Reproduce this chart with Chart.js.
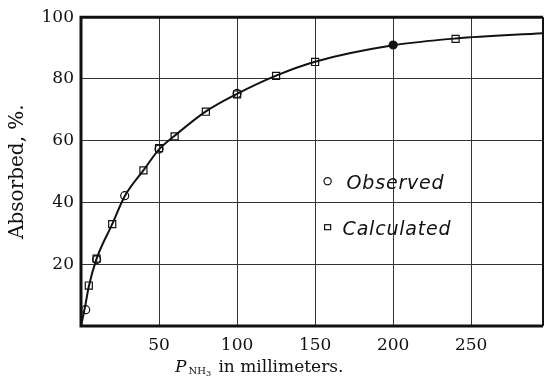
<!DOCTYPE html>
<html>
<head>
<meta charset="utf-8">
<script src="https://cdn.jsdelivr.net/npm/chart.js@4"></script>
<style>
  html, body { margin: 0; padding: 0; background: #fff; }
  #wrap { width: 545px; height: 387px; }
</style>
</head>
<body>
<div id="wrap"><canvas id="chart" width="545" height="387"></canvas></div>
<script>
// smooth fitted curve
const curveX = [0, 2.5, 5, 10, 20, 28, 40, 50, 60, 80, 100, 125, 150, 200, 240, 296];
const curveY = [0, 6, 12.8, 21.8, 33, 42, 50.4, 57.2, 61.6, 69.5, 75.2, 81.1, 85.6, 90.9, 93.1, 94.8];

// observed points (circles)
const observedX = [3, 10, 28, 50, 100, 200];
const observedY = [5.3, 21.5, 42.2, 57.3, 75.3, 91];

// calculated points (squares)
const calculatedX = [5, 10, 20, 40, 50, 60, 80, 100, 125, 150, 240];
const calculatedY = [13.1, 21.8, 33, 50.4, 57.6, 61.4, 69.4, 75, 81, 85.5, 93];

const xTicks = [50, 100, 150, 200, 250];
const yTicks = [20, 40, 60, 80, 100];
const xMax = 296;

const toPoints = (xs, ys) => xs.map((x, i) => ({ x: x, y: ys[i] }));

const serif = "'DejaVu Serif', 'Liberation Serif', serif";
const ink = "#111";

// frame round the plot area
const framePlugin = {
  id: "frame",
  beforeDatasetsDraw(chart) {
    const a = chart.chartArea;
    const ctx = chart.ctx;
    ctx.save();
    ctx.strokeStyle = ink;
    ctx.lineWidth = 3;
    ctx.beginPath();
    ctx.moveTo(a.right, a.top);
    ctx.lineTo(a.left, a.top);
    ctx.lineTo(a.left, a.bottom);
    ctx.lineTo(a.right, a.bottom);
    ctx.stroke();
    ctx.lineWidth = 2;
    ctx.beginPath();
    ctx.moveTo(a.right, a.top);
    ctx.lineTo(a.right, a.bottom);
    ctx.stroke();
    ctx.restore();
  },
};

// legend inside the plot + x title with subscript
const extrasPlugin = {
  id: "extras",
  afterDraw(chart) {
    const ctx = chart.ctx;
    const xs = chart.scales.x;
    const ys = chart.scales.y;
    ctx.save();
    ctx.fillStyle = ink;
    ctx.strokeStyle = ink;
    ctx.lineWidth = 1.2;

    const lx = xs.getPixelForValue(158);
    const y1 = ys.getPixelForValue(46.9);
    const y2 = ys.getPixelForValue(32);
    ctx.beginPath();
    ctx.arc(lx, y1, 3.6, 0, Math.PI * 2);
    ctx.stroke();
    ctx.strokeRect(lx - 3, y2 - 2.5, 6, 5);

    ctx.font = "italic 19px 'DejaVu Sans', sans-serif";
    ctx.letterSpacing = "0.8px";
    ctx.textBaseline = "alphabetic";
    ctx.textAlign = "left";
    ctx.fillText("Observed", lx + 19, y1 + 7.5);
    ctx.fillText("Calculated", lx + 15, y2 + 7.5);
    ctx.letterSpacing = "0px";

    // x axis title: P_NH3 in millimeters.
    const base = 372;
    let x = 175;
    ctx.font = "italic 17px " + serif;
    ctx.fillText("P", x, base);
    x += ctx.measureText("P").width + 2;
    ctx.font = "10px " + serif;
    ctx.fillText("NH", x, base + 2);
    x += ctx.measureText("NH").width;
    ctx.font = "8px " + serif;
    ctx.fillText("3", x, base + 4);
    x += ctx.measureText("3").width;
    ctx.font = "17px " + serif;
    ctx.fillText(" in millimeters.", x + 2, base);
    ctx.restore();
  },
};

const ctx = document.getElementById("chart").getContext("2d");
const chart = new Chart(ctx, {
  type: "scatter",
  data: {
    datasets: [
      {
        label: "Observed",
        data: toPoints(observedX, observedY),
        pointStyle: "circle",
        pointRadius: 4,
        pointBorderWidth: 1.2,
        pointBorderColor: ink,
        pointBackgroundColor: (c) => (c.raw && c.raw.x === 200 ? ink : "rgba(255,255,255,0)"),
        order: 1,
      },
      {
        label: "Calculated",
        data: toPoints(calculatedX, calculatedY),
        pointStyle: "rect",
        pointRadius: 5,
        pointBorderWidth: 1.2,
        pointBorderColor: ink,
        pointBackgroundColor: "rgba(255,255,255,0)",
        order: 2,
      },
      {
        type: "line",
        label: "curve",
        data: toPoints(curveX, curveY),
        borderColor: ink,
        borderWidth: 2,
        pointRadius: 0,
        cubicInterpolationMode: "monotone",
        fill: false,
        order: 3,
      },
    ],
  },
  options: {
    responsive: false,
    animation: false,
    events: [],
    layout: { autoPadding: false, padding: { top: 16, right: 2, left: 0, bottom: 0 } },
    plugins: {
      legend: { display: false },
      tooltip: { enabled: false },
    },
    scales: {
      x: {
        type: "linear",
        min: 0,
        max: xMax,
        afterBuildTicks: (s) => {
          s.ticks = [0].concat(xTicks).concat([xMax]).map((v) => ({ value: v }));
        },
        ticks: {
          callback: (v) => (xTicks.includes(v) ? v : ""),
          font: { family: serif, size: 17 },
          color: ink,
          padding: 9,
          maxRotation: 0,
          autoSkip: false,
        },
        grid: { color: "#333", lineWidth: 1, drawTicks: false },
        border: { display: false },
        afterFit: (s) => {
          s.height = 61;
          s.paddingLeft = 0;
          s.paddingRight = 0;
        },
      },
      y: {
        min: 0,
        max: 100,
        afterBuildTicks: (s) => {
          s.ticks = [0].concat(yTicks).map((v) => ({ value: v }));
        },
        ticks: {
          callback: (v) => (yTicks.includes(v) ? v : ""),
          font: { family: serif, size: 17 },
          color: ink,
          padding: 7,
          autoSkip: false,
        },
        grid: { color: "#333", lineWidth: 1, drawTicks: false },
        border: { display: false },
        title: {
          display: true,
          text: "Absorbed, %.",
          font: { family: serif, size: 20 },
          color: ink,
          padding: { top: 6, bottom: 0 },
        },
        afterFit: (s) => { s.width = 81; },
      },
    },
  },
  plugins: [framePlugin, extrasPlugin],
});
</script>
</body>
</html>
